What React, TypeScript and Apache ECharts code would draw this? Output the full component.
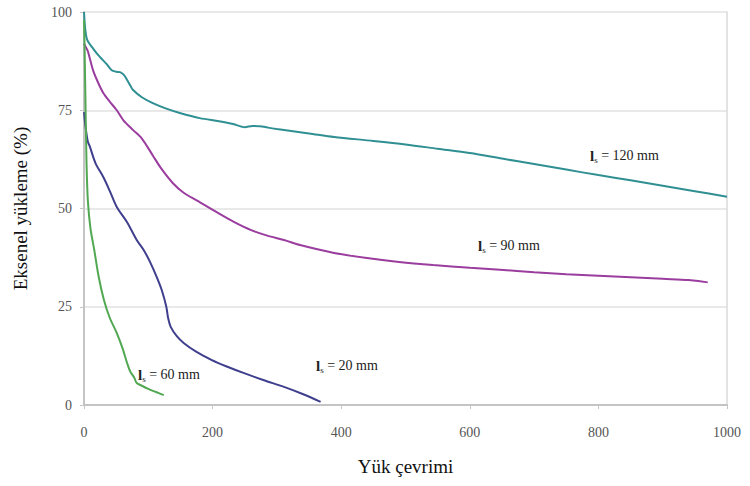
import React, { useEffect, useRef } from "react";
import * as echarts from "echarts";

const xTicks = [0, 200, 400, 600, 800, 1000];
const yTicks = [0, 25, 50, 75, 100];

const s120: [number, number][] = [
  [0, 100], [2, 95.5], [5, 92.9], [15, 90.5], [25, 88.5], [35, 86.8], [43, 85.2], [50, 84.8], [56, 84.7], [62, 84],
  [67, 82.7], [72, 81.3], [76, 80.2], [90, 78.3], [107, 76.8], [128, 75.4], [149, 74.3], [180, 73], [210, 72.2],
  [232, 71.5], [250, 70.7], [262, 71], [274, 70.9], [300, 70.2], [350, 69.1], [389, 68.2], [450, 67.2],
  [500, 66.3], [550, 65.2], [600, 64.1], [650, 62.7], [700, 61.3], [750, 59.9], [800, 58.5], [850, 57.2],
  [900, 55.8], [950, 54.4], [1000, 53],
];

const s90: [number, number][] = [
  [0, 92], [3, 91], [6, 90], [14, 85.2], [22, 82], [30, 79.4], [40, 77.2], [51, 75], [61, 72.5], [76, 70],
  [90, 67.8], [107, 63.5], [120, 60.2], [138, 56.5], [155, 54], [176, 52], [207, 49], [233, 46.6], [260, 44.5],
  [285, 43.1], [311, 42], [336, 40.7], [389, 38.7], [440, 37.4], [490, 36.4], [543, 35.6], [600, 34.9],
  [647, 34.4], [700, 33.8], [750, 33.3], [800, 32.9], [850, 32.5], [900, 32.1], [940, 31.8], [970, 31.2],
];

const s20: [number, number][] = [
  [0, 74.5], [3, 70], [6, 67], [9, 65.8], [18, 61.5], [30, 58], [40, 54.5], [51, 50.4], [67, 46.5], [82, 42],
  [93, 39.4], [103, 36.3], [113, 32.6], [121, 29.2], [128, 25], [131, 22], [135, 19.8], [144, 17.6], [155, 15.8],
  [175, 13.5], [198, 11.5], [222, 9.8], [249, 8.1], [280, 6.3], [311, 4.6], [340, 2.8], [368, 0.8],
];

const s60: [number, number][] = [
  [0, 98], [1, 90], [2, 80], [3, 70], [4, 61], [6, 52], [10, 45], [16, 39.4], [23, 32.5], [31, 26.7],
  [40, 22.2], [51, 18.3], [60, 14.4], [67, 10.7], [72, 8.5], [78, 7], [82, 5.6], [90, 4.9], [100, 4.1],
  [112, 3.3], [124, 2.5],
];

const seriesNames = ["120 mm", "90 mm", "20 mm", "60 mm"];
const seriesColors = ["#2f8f93", "#9a3d9e", "#3f3f8e", "#52a852"];

export default function App() {
  const ref = useRef<HTMLDivElement>(null);
  useEffect(() => {
    if (!ref.current) return;
    const chart = echarts.init(ref.current, undefined, { renderer: "svg" });
    const font = "'Liberation Serif', 'Times New Roman', serif";
    const label = (x: number, y: number, num: string) => ({
      type: "text",
      x,
      y,
      style: {
        text: `{b|l}{s|s}{t| = ${num}}`,
        rich: {
          b: { fontFamily: font, fontSize: 15, fontWeight: "bold", fill: "#222" },
          s: { fontFamily: font, fontSize: 9, fill: "#222", padding: [8, 0, 0, 0] },
          t: { fontFamily: font, fontSize: 14, fill: "#222" },
        },
      },
    });
    const datasets = [s120, s90, s20, s60];
    chart.setOption({
      animation: false,
      backgroundColor: "#fff",
      grid: { left: 84, right: 23, top: 12, bottom: 81 },
      xAxis: {
        type: "value",
        min: xTicks[0],
        max: xTicks[xTicks.length - 1],
        interval: 200,
        name: "Yük çevrimi",
        nameLocation: "middle",
        nameGap: 52,
        nameTextStyle: { fontFamily: font, fontSize: 19, color: "#111" },
        axisLine: { show: true, lineStyle: { color: "#c4c4c4", width: 2 } },
        axisTick: { show: true, length: 4, lineStyle: { color: "#c4c4c4" } },
        axisLabel: { fontFamily: font, fontSize: 14, color: "#555", margin: 20, formatter: (v: number) => String(v) },
        splitLine: { show: false },
      },
      yAxis: [
        {
          type: "value",
          min: yTicks[0],
          max: yTicks[yTicks.length - 1],
          interval: 25,
          name: "Eksenel yükleme (%)",
          nameLocation: "middle",
          nameGap: 54,
          nameTextStyle: { fontFamily: font, fontSize: 19, color: "#111" },
          axisLine: { show: true, lineStyle: { color: "#c4c4c4", width: 2 } },
          axisTick: { show: true, length: 4, lineStyle: { color: "#c4c4c4" } },
          axisLabel: { fontFamily: font, fontSize: 14, color: "#555", margin: 12 },
          splitLine: { show: true, lineStyle: { color: "#e2e2e2", width: 1.5 } },
        },
        {
          type: "value",
          min: 0,
          max: 100,
          interval: 25,
          position: "right",
          axisLine: { show: true, lineStyle: { color: "#dadada", width: 1.5 } },
          axisTick: { show: false },
          axisLabel: { show: false },
          splitLine: { show: false },
        },
      ],
      series: datasets.map((d, i) => ({
        type: "line",
        name: seriesNames[i],
        data: d,
        showSymbol: false,
        smooth: 0.3,
        lineStyle: { color: seriesColors[i], width: 2 },
        itemStyle: { color: seriesColors[i] },
      })),
      graphic: [
        label(590, 147, "120 mm"),
        label(478, 237, "90 mm"),
        label(316, 357, "20 mm"),
        label(138, 366, "60 mm"),
      ],
    });
    return () => chart.dispose();
  }, []);
  return <div ref={ref} style={{ width: 750, height: 486, position: "absolute", left: 0, top: 0 }} />;
}
